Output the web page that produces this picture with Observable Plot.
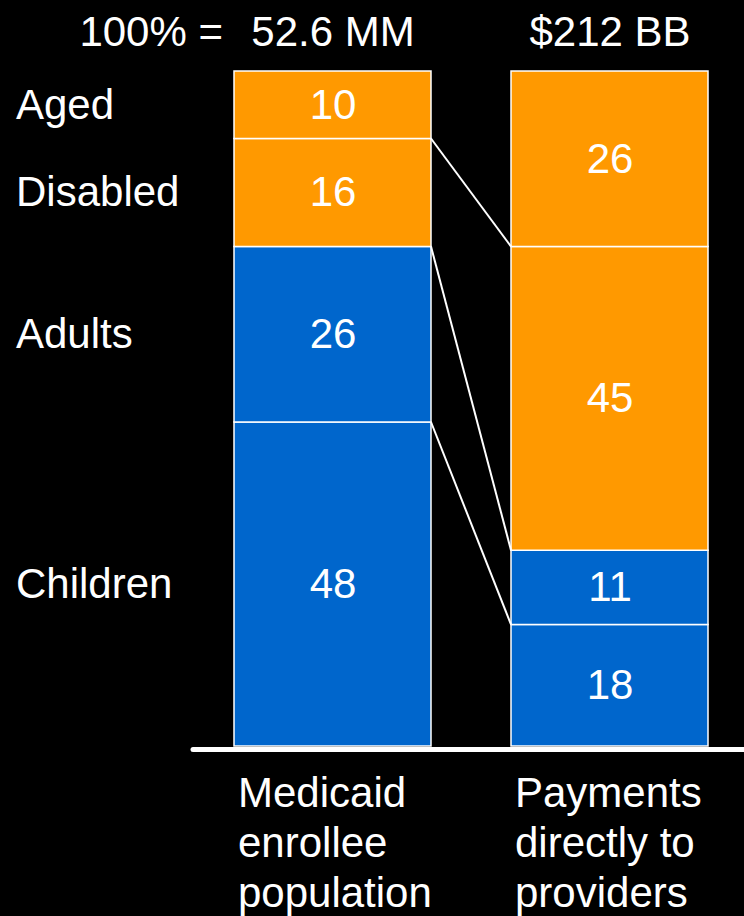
<!DOCTYPE html>
<html>
<head>
<meta charset="utf-8">
<script src="https://cdn.jsdelivr.net/npm/d3@7"></script>
<script src="https://cdn.jsdelivr.net/npm/@observablehq/plot@0.6"></script>
<style>
  html, body { margin: 0; padding: 0; background: #000; }
  #chart svg { display: block; }
</style>
</head>
<body>
<div id="chart"></div>
<script>
// Medicaid: share of enrollees vs. share of direct provider payments, by eligibility group
const segments = ["Aged", "Disabled", "Adults", "Children"];
const segmentGroups = ["Aged & disabled", "Aged & disabled", "Adults & children", "Adults & children"];
const columns = ["Medicaid\nenrollee\npopulation", "Payments\ndirectly to\nproviders"];
const columnTotals = ["52.6 MM", "$212 BB"];
const enrolleeShare = [10, 16, 26, 48];
const paymentShare = [26, 45, 11, 18];
const groupDomain = ["Aged & disabled", "Adults & children"];
const groupColors = ["#FF9900", "#0066CC"];

const shares = [enrolleeShare, paymentShare];

// Stack rows bottom-up: Children first, Aged last
const rows = [];
columns.forEach((column, c) => {
  for (let i = segments.length - 1; i >= 0; --i) {
    rows.push({column, segment: segments[i], group: segmentGroups[i], value: shares[c][i]});
  }
});

// Boundary below each segment (cumulative share from the bottom), left column to right column
const cumulativeBelow = (values, i) => d3.sum(values.slice(i + 1));
const links = segments.slice(0, -1).map((s, i) => ({
  from: cumulativeBelow(enrolleeShare, i),
  to: cumulativeBelow(paymentShare, i)
}));

// Lines joining the segment boundaries of the two bars across the gap
function connectors(index, scales) {
  const x = scales.x, y = scales.y;
  const bw = x.bandwidth();
  const g = d3.create("svg:g");
  g.selectAll("line")
    .data(links)
    .join("line")
    .attr("x1", x(columns[0]) + bw)
    .attr("x2", x(columns[1]))
    .attr("y1", d => y(d.from))
    .attr("y2", d => y(d.to))
    .attr("stroke", "#fff")
    .attr("stroke-width", 2);
  return g.node();
}

const font = "'Liberation Sans', Arial, Helvetica, sans-serif";
const leftRows = rows.filter(d => d.column === columns[0]);

const chart = Plot.plot({
  width: 744,
  height: 916,
  marginTop: 71,
  marginBottom: 170,
  marginLeft: 234,
  marginRight: 36,
  style: {background: "#000", color: "#fff", fontFamily: font},
  x: {type: "band", domain: columns, paddingInner: 0.289, paddingOuter: 0, axis: null},
  y: {domain: [0, 100], axis: null},
  color: {domain: groupDomain, range: groupColors},
  marks: [
    Plot.barY(rows, {
      x: "column", y: "value", z: "segment", fill: "group",
      stroke: "#fff", strokeWidth: 1.5
    }),
    connectors,
    Plot.ruleY([0], {
      stroke: "#fff", strokeWidth: 5, strokeLinecap: "round",
      dy: 3, insetLeft: -41, insetRight: -40
    }),
    // Shares inside the bar segments
    Plot.text(rows, Plot.stackY({
      x: "column", y: "value", z: "segment",
      text: d => String(d.value),
      fill: "#fff", fontSize: 42
    })),
    // Group names at the left
    Plot.text(leftRows, Plot.stackY({
      x: "column", y: "value", z: "segment",
      text: "segment", textAnchor: "start", dx: -317,
      fill: "#fff", fontSize: 42
    })),
    // Totals above the bars
    Plot.text(columns, {
      x: d => d, y: 100, text: columnTotals,
      lineAnchor: "bottom", dy: -26, fill: "#fff", fontSize: 42
    }),
    Plot.text([columns[0]], {
      x: d => d, y: 100, text: ["100% ="],
      textAnchor: "end", lineAnchor: "bottom", dx: -110, dy: -26,
      fill: "#fff", fontSize: 42
    }),
    // Column captions under the baseline
    Plot.text(columns, {
      x: d => d, y: 0, text: d => d,
      textAnchor: "start", lineAnchor: "top", dx: -95, dy: 25,
      lineHeight: 1.19, fill: "#fff", fontSize: 42
    })
  ]
});

document.getElementById("chart").append(chart);
</script>
</body>
</html>
